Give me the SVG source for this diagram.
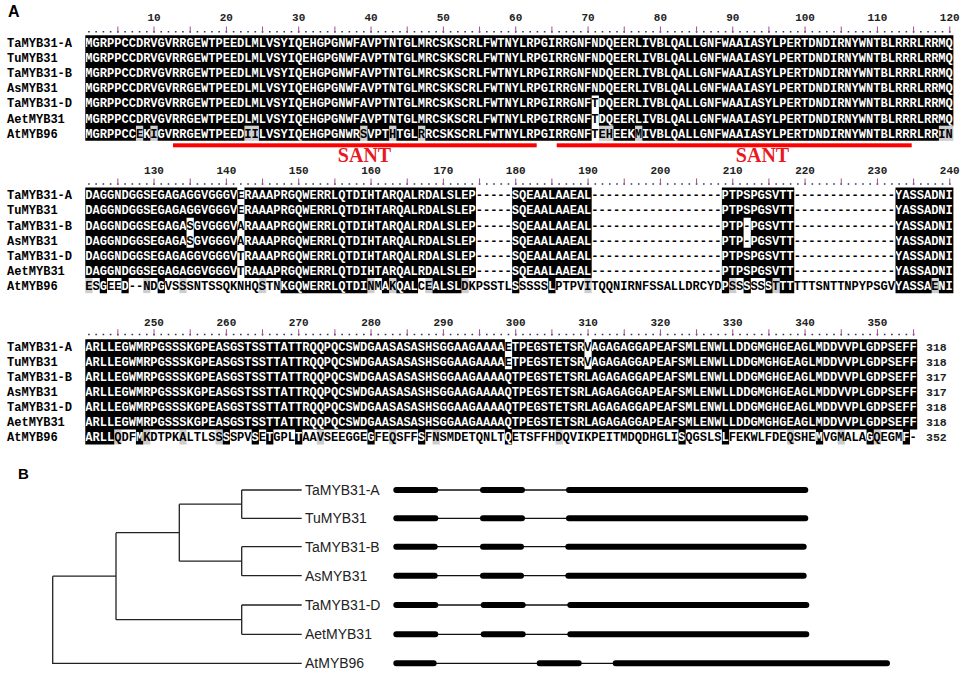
<svg xmlns="http://www.w3.org/2000/svg" width="963" height="674" viewBox="0 0 963 674">
<style>
.seq{font-family:"Liberation Mono","DejaVu Sans Mono",monospace;font-weight:bold;font-size:12.055px}
.lab{font-family:"Liberation Mono","DejaVu Sans Mono",monospace;font-weight:bold;font-size:12.055px;fill:#000}
.num{font-family:"Liberation Mono","DejaVu Sans Mono",monospace;font-weight:bold;font-size:11px;fill:#222;text-anchor:middle}
.cnt{font-family:"Liberation Mono","DejaVu Sans Mono",monospace;font-weight:bold;font-size:11.5px;fill:#222}
.dots{stroke:#34345e;stroke-width:1.6;stroke-dasharray:1.6 5.634}
.ticks{stroke:#a24e8e;stroke-width:6.5;stroke-dasharray:1 35.17}
.blk{fill:#000}
.grey{fill:#cdcdcd}
.red{fill:#f00}
.sant{font-family:"Liberation Serif","Times New Roman",serif;font-weight:bold;font-size:20px;fill:#e8191f;text-anchor:middle}
.pl{font-family:"Liberation Sans",Arial,sans-serif;font-weight:bold;fill:#000}
.tree{stroke:#222;stroke-width:1.3;fill:none}
.intron{stroke:#111;stroke-width:1.3;fill:none}
.exon{stroke:#000;stroke-width:6;stroke-linecap:round;fill:none}
.tl{font-family:"Liberation Sans",Arial,sans-serif;font-size:14px;fill:#222}
</style>
<defs>
<path id="k1" d="M85.3 35.15h868.08v60.4h-868.08zM85.3 95.55h506.38v30.2h-506.38zM598.914 95.55h354.466v30.2h-354.466zM85.3 125.75h50.638v15.1h-50.638zM143.172 125.75h7.234v15.1h-7.234zM157.64 125.75h86.808v15.1h-86.808zM258.916 125.75h101.276v15.1h-101.276zM367.426 125.75h21.702v15.1h-21.702zM396.362 125.75h21.702v15.1h-21.702zM425.298 125.75h166.382v15.1h-166.382zM613.382 125.75h21.702v15.1h-21.702zM642.318 125.75h296.594v15.1h-296.594z"/>
<path id="k2" d="M85.3 187.45h151.914v30.2h-151.914zM85.3 217.65h101.276v30.2h-101.276zM193.81 217.65h43.404v30.2h-43.404zM85.3 247.85h151.914v30.2h-151.914zM244.448 187.45h231.488v90.6h-231.488zM512.106 187.45h79.574v90.6h-79.574zM721.892 187.45h72.34v30.2h-72.34zM721.892 217.65h21.702v30.2h-21.702zM750.828 217.65h43.404v30.2h-43.404zM721.892 247.85h72.34v30.2h-72.34zM895.508 187.45h57.872v90.6h-57.872zM99.768 278.05h7.234v15.1h-7.234zM121.47 278.05h7.234v15.1h-7.234zM157.64 278.05h7.234v15.1h-7.234zM280.618 278.05h86.808v15.1h-86.808zM381.894 278.05h7.234v15.1h-7.234zM396.362 278.05h21.702v15.1h-21.702zM432.532 278.05h28.936v15.1h-28.936zM512.106 278.05h7.234v15.1h-7.234zM548.276 278.05h7.234v15.1h-7.234zM721.892 278.05h7.234v15.1h-7.234zM743.594 278.05h7.234v15.1h-7.234zM765.296 278.05h7.234v15.1h-7.234zM779.764 278.05h14.468v15.1h-14.468zM895.508 278.05h36.17v15.1h-36.17zM938.912 278.05h14.468v15.1h-14.468z"/>
<path id="k3" d="M85.3 339.175h419.572v30.1h-419.572zM512.106 339.175h72.34v30.1h-72.34zM591.68 339.175h325.53v30.1h-325.53zM85.3 369.275h831.91v60.2h-831.91zM85.3 429.475h28.936v15.05h-28.936zM135.938 429.475h7.234v15.05h-7.234zM222.746 429.475h7.234v15.05h-7.234zM251.682 429.475h7.234v15.05h-7.234zM266.15 429.475h7.234v15.05h-7.234zM295.086 429.475h7.234v15.05h-7.234zM367.426 429.475h7.234v15.05h-7.234zM418.064 429.475h7.234v15.05h-7.234zM504.872 429.475h7.234v15.05h-7.234zM678.488 429.475h7.234v15.05h-7.234zM721.892 429.475h7.234v15.05h-7.234zM815.934 429.475h7.234v15.05h-7.234zM866.572 429.475h7.234v15.05h-7.234zM902.742 429.475h7.234v15.05h-7.234z"/>
<clipPath id="c1"><use href="#k1"/></clipPath>
<clipPath id="c2"><use href="#k2"/></clipPath>
<clipPath id="c3"><use href="#k3"/></clipPath>
<g id="s1" class="seq">
<text x="85.3" y="47">MGRPPCCDRVGVRRGEWTPEEDLMLVSYIQEHGPGNWFAVPTNTGLMRCSKSCRLFWTNYLRPGIRRGNFNDQEERLIVBLQALLGNFWAAIASYLPERTDNDIRNYWNTBLRRRLRRMQ</text>
<text x="85.3" y="62.1">MGRPPCCDRVGVRRGEWTPEEDLMLVSYIQEHGPGNWFAVPTNTGLMRCSKSCRLFWTNYLRPGIRRGNFNDQEERLIVBLQALLGNFWAAIASYLPERTDNDIRNYWNTBLRRRLRRMQ</text>
<text x="85.3" y="77.2">MGRPPCCDRVGVRRGEWTPEEDLMLVSYIQEHGPGNWFAVPTNTGLMRCSKSCRLFWTNYLRPGIRRGNFNDQEERLIVBLQALLGNFWAAIASYLPERTDNDIRNYWNTBLRRRLRRMQ</text>
<text x="85.3" y="92.3">MGRPPCCDRVGVRRGEWTPEEDLMLVSYIQEHGPGNWFAVPTNTGLMRCSKSCRLFWTNYLRPGIRRGNFNDQEERLIVBLQALLGNFWAAIASYLPERTDNDIRNYWNTBLRRRLRRMQ</text>
<text x="85.3" y="107.4">MGRPPCCDRVGVRRGEWTPEEDLMLVSYIQEHGPGNWFAVPTNTGLMRCSKSCRLFWTNYLRPGIRRGNFTDQEERLIVBLQALLGNFWAAIASYLPERTDNDIRNYWNTBLRRRLRRMQ</text>
<text x="85.3" y="122.5">MGRPPCCDRVGVRRGEWTPEEDLMLVSYIQEHGPGNWFAVPTNTGLMRCSKSCRLFWTNYLRPGIRRGNFTDQEERLIVBLQALLGNFWAAIASYLPERTDNDIRNYWNTBLRRRLRRMQ</text>
<text x="85.3" y="137.6">MGRPPCCEKIGVRRGEWTPEEDIILVSYIQEHGPGNWRSVPTHTGLRRCSKSCRLFWTNYLRPGIRRGNFTEHEEKMIVBLQALLGNFWAAIASYLPERTDNDIRNYWNTBLRRRLRRIN</text>
</g>
<g id="s2" class="seq">
<text x="85.3" y="199.3">DAGGNDGGSEGAGAGGVGGGVERAAAPRGQWERRLQTDIHTARQALRDALSLEP-----SQEAALAAEAL------------------PTPSPGSVTT--------------YASSADNI</text>
<text x="85.3" y="214.4">DAGGNDGGSEGAGAGGVGGGVERAAAPRGQWERRLQTDIHTARQALRDALSLEP-----SQEAALAAEAL------------------PTPSPGSVTT--------------YASSADNI</text>
<text x="85.3" y="229.5">DAGGNDGGSEGAGASGVGGGVARAAAPRGQWERRLQTDIHTARQALRDALSLEP-----SQEAALAAEAL------------------PTP-PGSVTT--------------YASSADNI</text>
<text x="85.3" y="244.6">DAGGNDGGSEGAGASGVGGGVARAAAPRGQWERRLQTDIHTARQALRDALSLEP-----SQEAALAAEAL------------------PTP-PGSVTT--------------YASSADNI</text>
<text x="85.3" y="259.7">DAGGNDGGSEGAGAGGVGGGVTRAAAPRGQWERRLQTDIHTARQALRDALSLEP-----SQEAALAAEAL------------------PTPSPGSVTT--------------YASSADNI</text>
<text x="85.3" y="274.8">DAGGNDGGSEGAGAGGVGGGVTRAAAPRGQWERRLQTDIHTARQALRDALSLEP-----SQEAALAAEAL------------------PTPSPGSVTT--------------YASSADNI</text>
<text x="85.3" y="289.9">ESGEED--NDGVSSSNTSSQKNHQSTNKGQWERRLQTDINMAKQALCEALSLDKPSSTLSSSSSLPTPVITQQNIRNFSSALLDRCYDPSSSSSSTTTTTTSNTTNPYPSGVYASSAENI</text>
</g>
<g id="s3" class="seq">
<text x="85.3" y="351">ARLLEGWMRPGSSSKGPEASGSTSSTTATTRQQPQCSWDGAASASASHSGGAAGAAAAETPEGSTETSRVAGAGAGGAPEAFSMLENWLLDDGMGHGEAGLMDDVVPLGDPSEFF</text>
<text x="85.3" y="366.05">ARLLEGWMRPGSSSKGPEASGSTSSTTATTRQQPQCSWDGAASASASHSGGAAGAAAAETPEGSTETSRVAGAGAGGAPEAFSMLENWLLDDGMGHGEAGLMDDVVPLGDPSEFF</text>
<text x="85.3" y="381.1">ARLLEGWMRPGSSSKGPEASGSTSSTTATTRQQPQCSWDGAASASASHSGGAAGAAAAQTPEGSTETSRLAGAGAGGAPEAFSMLENWLLDDGMGHGEAGLMDDVVPLGDPSEFF</text>
<text x="85.3" y="396.15">ARLLEGWMRPGSSSKGPEASGSTSSTTATTRQQPQCSWDGAASASASHSGGAAGAAAAQTPEGSTETSRLAGAGAGGAPEAFSMLENWLLDDGMGHGEAGLMDDVVPLGDPSEFF</text>
<text x="85.3" y="411.2">ARLLEGWMRPGSSSKGPEASGSTSSTTATTRQQPQCSWDGAASASASHSGGAAGAAAAQTPEGSTETSRLAGAGAGGAPEAFSMLENWLLDDGMGHGEAGLMDDVVPLGDPSEFF</text>
<text x="85.3" y="426.25">ARLLEGWMRPGSSSKGPEASGSTSSTTATTRQQPQCSWDGAASASASHSGGAAGAAAAQTPEGSTETSRLAGAGAGGAPEAFSMLENWLLDDGMGHGEAGLMDDVVPLGDPSEFF</text>
<text x="85.3" y="441.3">ARLLQDFMKDTPKALTLSSSSPVSETGPLTAAVSEEGGEGFEQSFFSFNSMDETQNLTQETSFFHDQVIKPEITMDQDHGLISQGSLSLFEKWLFDEQSHEMVGMALAGQEGMF-</text>
</g>
</defs>
<rect width="963" height="674" fill="#fff"/>
<g id="panelA">
<text class="pl" x="8" y="16.7" font-size="16">A</text>
<g id="ruler1">
<line class="dots" x1="88.117" y1="31.7" x2="953" y2="31.7"/>
<line class="ticks" x1="117.353" y1="29.8" x2="953" y2="29.8"/>
<text class="num" x="154.02" y="21.3">10</text><text class="num" x="226.36" y="21.3">20</text><text class="num" x="298.7" y="21.3">30</text><text class="num" x="371.04" y="21.3">40</text><text class="num" x="443.38" y="21.3">50</text><text class="num" x="515.72" y="21.3">60</text><text class="num" x="588.06" y="21.3">70</text><text class="num" x="660.4" y="21.3">80</text><text class="num" x="732.74" y="21.3">90</text><text class="num" x="805.08" y="21.3">100</text><text class="num" x="877.42" y="21.3">110</text><text class="num" x="949.76" y="21.3">120</text>
</g>
<g id="block1">
<g class="grey"><rect x="135.938" y="125.75" width="7.234" height="15.1"/><rect x="150.406" y="125.75" width="7.234" height="15.1"/><rect x="244.448" y="125.75" width="14.468" height="15.1"/><rect x="360.192" y="125.75" width="7.234" height="15.1"/><rect x="389.128" y="125.75" width="7.234" height="15.1"/><rect x="418.064" y="125.75" width="7.234" height="15.1"/><rect x="598.914" y="125.75" width="14.468" height="15.1"/><rect x="635.084" y="125.75" width="7.234" height="15.1"/><rect x="938.912" y="125.75" width="14.468" height="15.1"/></g>
<use href="#k1" class="blk"/>
<use href="#s1" fill="#000"/>
<use href="#s1" fill="#fff" clip-path="url(#c1)"/>
<g class="lab"><text x="7" y="47">TaMYB31-A</text><text x="7" y="62.1">TuMYB31</text><text x="7" y="77.2">TaMYB31-B</text><text x="7" y="92.3">AsMYB31</text><text x="7" y="107.4">TaMYB31-D</text><text x="7" y="122.5">AetMYB31</text><text x="7" y="137.6">AtMYB96</text></g>
</g>
<g id="sant">
<rect class="red" x="173" y="143.3" width="363.7" height="4"/>
<rect class="red" x="556.7" y="143.3" width="355" height="4"/>
<text class="sant" x="364.5" y="161.7">SANT</text>
<text class="sant" x="762.5" y="161.7">SANT</text>
</g>
<g id="ruler2">
<line class="dots" x1="88.117" y1="184" x2="953" y2="184"/>
<line class="ticks" x1="117.353" y1="181.8" x2="953" y2="181.8"/>
<text class="num" x="154.02" y="174">130</text><text class="num" x="226.36" y="174">140</text><text class="num" x="298.7" y="174">150</text><text class="num" x="371.04" y="174">160</text><text class="num" x="443.38" y="174">170</text><text class="num" x="515.72" y="174">180</text><text class="num" x="588.06" y="174">190</text><text class="num" x="660.4" y="174">200</text><text class="num" x="732.74" y="174">210</text><text class="num" x="805.08" y="174">220</text><text class="num" x="877.42" y="174">230</text><text class="num" x="949.76" y="174">240</text>
</g>
<g id="block2">
<g class="grey"><rect x="85.3" y="278.05" width="7.234" height="15.1"/><rect x="143.172" y="278.05" width="7.234" height="15.1"/><rect x="179.342" y="278.05" width="7.234" height="15.1"/><rect x="258.916" y="278.05" width="7.234" height="15.1"/><rect x="367.426" y="278.05" width="7.234" height="15.1"/><rect x="389.128" y="278.05" width="7.234" height="15.1"/><rect x="425.298" y="278.05" width="7.234" height="15.1"/><rect x="461.468" y="278.05" width="7.234" height="15.1"/><rect x="584.446" y="278.05" width="7.234" height="15.1"/><rect x="729.126" y="278.05" width="7.234" height="15.1"/><rect x="772.53" y="278.05" width="7.234" height="15.1"/><rect x="931.678" y="278.05" width="7.234" height="15.1"/></g>
<use href="#k2" class="blk"/>
<use href="#s2" fill="#000"/>
<use href="#s2" fill="#fff" clip-path="url(#c2)"/>
<g class="lab"><text x="7" y="199.3">TaMYB31-A</text><text x="7" y="214.4">TuMYB31</text><text x="7" y="229.5">TaMYB31-B</text><text x="7" y="244.6">AsMYB31</text><text x="7" y="259.7">TaMYB31-D</text><text x="7" y="274.8">AetMYB31</text><text x="7" y="289.9">AtMYB96</text></g>
</g>
<g id="ruler3">
<line class="dots" x1="88.117" y1="334.5" x2="917" y2="334.5"/>
<line class="ticks" x1="117.353" y1="332.5" x2="917" y2="332.5"/>
<text class="num" x="154.02" y="326.3">250</text><text class="num" x="226.36" y="326.3">260</text><text class="num" x="298.7" y="326.3">270</text><text class="num" x="371.04" y="326.3">280</text><text class="num" x="443.38" y="326.3">290</text><text class="num" x="515.72" y="326.3">300</text><text class="num" x="588.06" y="326.3">310</text><text class="num" x="660.4" y="326.3">320</text><text class="num" x="732.74" y="326.3">330</text><text class="num" x="805.08" y="326.3">340</text><text class="num" x="877.42" y="326.3">350</text>
</g>
<g id="block3">
<g class="grey"><rect x="114.236" y="429.475" width="7.234" height="15.05"/><rect x="143.172" y="429.475" width="7.234" height="15.05"/><rect x="179.342" y="429.475" width="7.234" height="15.05"/><rect x="215.512" y="429.475" width="7.234" height="15.05"/><rect x="316.788" y="429.475" width="7.234" height="15.05"/><rect x="389.128" y="429.475" width="7.234" height="15.05"/><rect x="432.532" y="429.475" width="7.234" height="15.05"/><rect x="555.51" y="429.475" width="7.234" height="15.05"/><rect x="786.998" y="429.475" width="7.234" height="15.05"/><rect x="837.636" y="429.475" width="7.234" height="15.05"/><rect x="873.806" y="429.475" width="7.234" height="15.05"/></g>
<use href="#k3" class="blk"/>
<use href="#s3" fill="#000"/>
<use href="#s3" fill="#fff" clip-path="url(#c3)"/>
<g class="lab"><text x="7" y="351">TaMYB31-A</text><text x="7" y="366.05">TuMYB31</text><text x="7" y="381.1">TaMYB31-B</text><text x="7" y="396.15">AsMYB31</text><text x="7" y="411.2">TaMYB31-D</text><text x="7" y="426.25">AetMYB31</text><text x="7" y="441.3">AtMYB96</text></g>
<g class="cnt"><text x="926" y="351">318</text><text x="926" y="366.05">318</text><text x="926" y="381.1">317</text><text x="926" y="396.15">317</text><text x="926" y="411.2">318</text><text x="926" y="426.25">318</text><text x="926" y="441.3">352</text></g>
</g>
</g>
<g id="panelB">
<text class="pl" x="18" y="479" font-size="15">B</text>
<g id="connectors" class="tree">
<path d="M241.7 490H301.7M241.7 518.3H301.7M241.7 490V518.3"/>
<path d="M241.7 546.7H301.7M241.7 575.7H301.7M241.7 546.7V575.7"/>
<path d="M179.3 504.2H241.7M179.3 561.2H241.7M179.3 504.2V561.2"/>
<path d="M241.7 605H301.7M241.7 634.3H301.7M241.7 605V634.3"/>
<path d="M116 532.7H179.3M116 619.7H241.7M116 532.7V619.7"/>
<path d="M52.7 576.2H116M52.7 576.2V663.3H301.7"/>
</g>
<g id="n-TaMYB31-A"><text class="tl" x="305" y="495">TaMYB31-A</text><path class="intron" d="M396 490H805"/><path class="exon" d="M396.3 490H435.3M483 490H522M569 490H805.3"/></g>
<g id="n-TuMYB31"><text class="tl" x="305" y="523.3">TuMYB31</text><path class="intron" d="M396 518.3H805"/><path class="exon" d="M396.3 518.3H435.3M483 518.3H522M569 518.3H805.3"/></g>
<g id="n-TaMYB31-B"><text class="tl" x="305" y="551.7">TaMYB31-B</text><path class="intron" d="M396 546.7H803"/><path class="exon" d="M396.3 546.7H434.7M483 546.7H521M568.3 546.7H803.7"/></g>
<g id="n-AsMYB31"><text class="tl" x="305" y="580.7">AsMYB31</text><path class="intron" d="M396 575.7H803"/><path class="exon" d="M396.3 575.7H434.7M483 575.7H521M568.3 575.7H803.7"/></g>
<g id="n-TaMYB31-D"><text class="tl" x="305" y="610">TaMYB31-D</text><path class="intron" d="M396 605H806"/><path class="exon" d="M396.3 605H435.3M483.7 605H522.7M570.3 605H806.3"/></g>
<g id="n-AetMYB31"><text class="tl" x="305" y="639.3">AetMYB31</text><path class="intron" d="M396 634.3H806"/><path class="exon" d="M396.3 634.3H435.3M483.7 634.3H522.7M570.3 634.3H806.3"/></g>
<g id="n-AtMYB96"><text class="tl" x="305" y="668.3">AtMYB96</text><path class="intron" d="M396 663.3H887"/><path class="exon" d="M396.3 663.3H433.7M539.7 663.3H578.7M615.7 663.3H887"/></g>
</g>
</svg>
